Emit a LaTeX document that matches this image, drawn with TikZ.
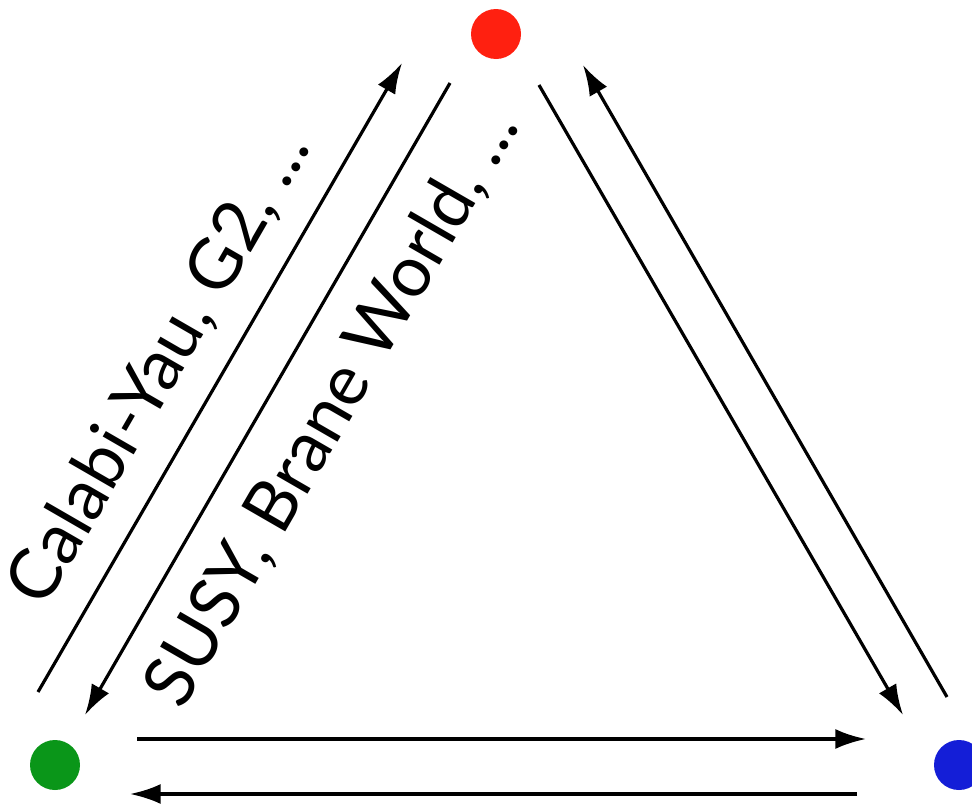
\documentclass[tikz,border=0pt]{standalone}
\usepackage{fontspec}
\setmainfont{Lato}
\usetikzlibrary{arrows.meta}
\definecolor{dotred}{RGB}{255,32,16}
\definecolor{dotgreen}{RGB}{10,150,25}
\definecolor{dotblue}{RGB}{20,30,215}
\begin{document}
\begin{tikzpicture}[x=0.75pt,y=-0.75pt,
  dot/.style={circle,inner sep=0pt,minimum size=37.5pt},
  link/.style={line width=2.4pt,-{Latex[length=23pt,width=15pt]}},
  lbl/.style={font=\fontsize{53}{53}\selectfont,inner sep=0pt,rotate=60}]
\useasboundingbox (0,0) rectangle (972,807);
\fill[white] (0,0) rectangle (972,807);
% vertices
\node[dot,fill=dotred]   (top)   at (496,34)  {};
\node[dot,fill=dotgreen] (left)  at (55,765)  {};
\node[dot,fill=dotblue]  (right) at (959,765) {};
% arrow end points
\coordinate (a1) at (38,692);  \coordinate (b1) at (402,63);
\coordinate (a2) at (450,83);  \coordinate (b2) at (85,715);
\coordinate (a3) at (539,85);  \coordinate (b3) at (903,715);
\coordinate (a4) at (947,697); \coordinate (b4) at (583,65);
\coordinate (a5) at (137,739); \coordinate (b5) at (866,739);
\coordinate (a6) at (857,794); \coordinate (b6) at (130,794);
\draw[link] (a1) -- (b1);
\draw[link] (a2) -- (b2);
\draw[link] (a3) -- (b3);
\draw[link] (a4) -- (b4);
\draw[link] (a5) -- (b5);
\draw[link] (a6) -- (b6);
% labels
\node[lbl] (cy) at (160,368) {Calabi-Yau, G2, ...};
\node[lbl] (sb) at (333,408) {SUSY, Brane World, ...};
\end{tikzpicture}
\end{document}
